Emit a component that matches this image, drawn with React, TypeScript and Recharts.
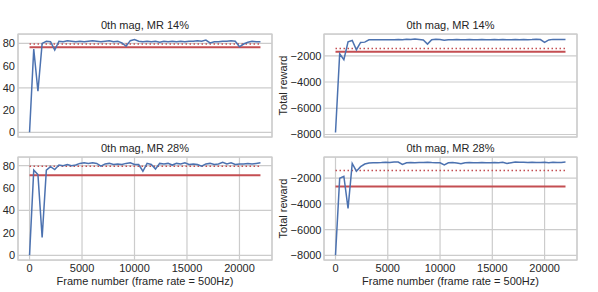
import { CartesianGrid, Line, LineChart, ReferenceArea, ReferenceLine, XAxis, YAxis } from "recharts";

const frames = [
  0, 400, 800, 1200, 1600, 2000, 2400, 2800, 3200, 3600, 4000, 4400, 4800, 5200,
  5600, 6000, 6400, 6800, 7200, 7600, 8000, 8400, 8800, 9200, 9600, 10000, 10400,
  10800, 11200, 11600, 12000, 12400, 12800, 13200, 13600, 14000, 14400, 14800,
  15200, 15600, 16000, 16400, 16800, 17200, 17600, 18000, 18400, 18800, 19200,
  19600, 20000, 20400, 20800, 21200, 21600, 22000,
];

const mag14 = [
  0, 75, 37, 80, 82, 81.5, 74, 82, 81.5, 82.5, 82, 81.5, 82, 81.5, 82, 82.5, 82,
  81.5, 82, 82.5, 81.5, 82, 80.5, 77.5, 82.5, 83.5, 82, 81.5, 82, 81.5, 82, 81,
  82, 81.5, 82, 81.5, 82, 81.5, 82, 82, 82.5, 82, 83, 80.5, 81.5, 81.5, 82, 82,
  82.5, 82, 77, 79.5, 81, 82, 81.5, 81.5,
];

const reward14 = [
  -7850, -1850, -2300, -930, -830, -1540, -980, -960, -780, -780, -770, -780,
  -770, -780, -770, -760, -780, -740, -760, -730, -760, -800, -1110, -770, -740,
  -760, -820, -770, -780, -760, -770, -780, -760, -770, -780, -760, -770, -780,
  -760, -770, -760, -780, -770, -760, -780, -750, -770, -760, -740, -760, -980,
  -790, -750, -760, -750, -760,
];

const mag28 = [
  0, 76, 72, 16, 76, 79, 76.5, 80.5, 80, 81, 80, 80.5, 82, 82.5, 82, 82.5, 82,
  79.5, 81.5, 82, 81, 81.5, 81, 82, 82.5, 81, 81, 75, 82, 81, 77, 82, 81.5, 82,
  80.5, 82, 81.5, 82.5, 81, 81.5, 81, 79.5, 81.5, 82, 81, 81.5, 83, 81.5, 82.5,
  81, 81.5, 81.5, 82, 81.5, 82, 82.5,
];

const reward28 = [
  -8000, -2000, -1850, -4350, -850, -1450, -1100, -900, -820, -790, -800, -780,
  -750, -780, -740, -740, -930, -800, -770, -790, -780, -770, -760, -780, -790,
  -800, -960, -800, -780, -820, -880, -790, -780, -800, -790, -780, -790, -790,
  -780, -800, -760, -850, -790, -740, -760, -750, -770, -760, -780, -770, -760,
  -790, -750, -780, -770, -740,
];

// baselines: dotted = reference, solid = this run
const magRef = [79.5, 79.5];
const magBase = [76.5, 71.5];
const rewardRef = [-1440, -1410];
const rewardBase = [-1700, -2650];

const xTicks = [0, 5000, 10000, 15000, 20000];
const magTicks = [0, 20, 40, 60, 80];
const rewardTicks = [-8000, -6000, -4000, -2000];
const titles = ["0th mag, MR 14%", "0th mag, MR 28%"];

const FONT = "'Liberation Sans', Arial, sans-serif";
const TEXT = "#262626";
const GRID = "#cccccc";
const BLUE = "#4c72b0";
const RED = "#c44e52";
const X_DOMAIN: [number, number] = [-1100, 23100];

const fmt = (v: number) => String(v).replace("-", "\u2212");

function RewardLabel({ viewBox }: any) {
  const cx = viewBox.x + 6.7;
  const cy = viewBox.y + viewBox.height / 2;
  return (
    <text
      x={cx}
      y={cy}
      transform={`rotate(-90 ${cx} ${cy})`}
      textAnchor="middle"
      dominantBaseline="central"
      fontSize={11}
      fontFamily={FONT}
      fill={TEXT}
    >
      Total reward
    </text>
  );
}

interface PanelProps {
  values: number[];
  yDomain: [number, number];
  yTicks: number[];
  refY: number;
  baseY: number;
  bottom: boolean;
  right: boolean;
}

function Panel({ values, yDomain, yTicks, refY, baseY, bottom, right }: PanelProps) {
  const data = frames.map((f, i) => ({ frame: f, value: values[i] }));
  const width = right ? 322 : 276;
  return (
    <LineChart
      width={width}
      height={146}
      data={data}
      margin={{ top: bottom ? 11 : 34, right: right ? 21 : 4, left: 0, bottom: bottom ? 0 : 9 }}
    >
      <CartesianGrid stroke={GRID} strokeWidth={1.2} />
      <XAxis
        type="number"
        dataKey="frame"
        domain={X_DOMAIN}
        ticks={xTicks}
        allowDataOverflow
        axisLine={false}
        tickLine={false}
        tickSize={0}
        tickMargin={4}
        height={bottom ? 32 : 0}
        tick={bottom ? { fill: TEXT, fontSize: 11, fontFamily: FONT } : false}
      />
      <YAxis
        type="number"
        domain={yDomain}
        ticks={yTicks}
        allowDataOverflow
        axisLine={false}
        tickLine={false}
        tickSize={0}
        tickMargin={right ? 2.5 : 3}
        width={right ? 48 : 18}
        tickFormatter={fmt}
        tick={{ fill: TEXT, fontSize: 11, fontFamily: FONT }}
        label={right ? { content: <RewardLabel /> } : undefined}
      />
      <ReferenceArea
        x1={X_DOMAIN[0]}
        x2={X_DOMAIN[1]}
        y1={yDomain[0]}
        y2={yDomain[1]}
        fill="none"
        stroke={GRID}
        strokeWidth={1.25}
      />
      <ReferenceLine
        segment={[{ x: 0, y: baseY }, { x: 22000, y: baseY }]}
        stroke={RED}
        strokeWidth={2}
      />
      <ReferenceLine
        segment={[{ x: 0, y: refY }, { x: 22000, y: refY }]}
        stroke={RED}
        strokeWidth={1.5}
        strokeDasharray="1.5 2.5"
      />
      <Line
        type="linear"
        dataKey="value"
        stroke={BLUE}
        strokeWidth={1.5}
        dot={false}
        isAnimationActive={false}
      />
    </LineChart>
  );
}

const textStyle = {
  position: "absolute" as const,
  fontFamily: FONT,
  fontSize: 11,
  lineHeight: "13px",
  color: TEXT,
  textAlign: "center" as const,
  whiteSpace: "nowrap" as const,
};

export default function App() {
  return (
    <div style={{ position: "absolute", left: 0, top: 0, width: 598, height: 292, background: "#fff" }}>
      <div style={{ position: "absolute", left: 0, top: 0 }}>
        <Panel values={mag14} yDomain={[-4.2, 88.5]} yTicks={magTicks} refY={magRef[0]} baseY={magBase[0]} bottom={false} right={false} />
      </div>
      <div style={{ position: "absolute", left: 276, top: 0 }}>
        <Panel values={reward14} yDomain={[-8190, -340]} yTicks={rewardTicks} refY={rewardRef[0]} baseY={rewardBase[0]} bottom={false} right />
      </div>
      <div style={{ position: "absolute", left: 0, top: 146 }}>
        <Panel values={mag28} yDomain={[-4.2, 87.7]} yTicks={magTicks} refY={magRef[1]} baseY={magBase[1]} bottom right={false} />
      </div>
      <div style={{ position: "absolute", left: 276, top: 146 }}>
        <Panel values={reward28} yDomain={[-8365, -350]} yTicks={rewardTicks} refY={rewardRef[1]} baseY={rewardBase[1]} bottom right />
      </div>

      <div style={{ ...textStyle, left: 18, width: 254, top: 19 }}>{titles[0]}</div>
      <div style={{ ...textStyle, left: 324, width: 253, top: 19 }}>{titles[0]}</div>
      <div style={{ ...textStyle, left: 18, width: 254, top: 142 }}>{titles[1]}</div>
      <div style={{ ...textStyle, left: 324, width: 253, top: 142 }}>{titles[1]}</div>

      <div style={{ ...textStyle, left: 18, width: 254, top: 275 }}>Frame number (frame rate = 500Hz)</div>
      <div style={{ ...textStyle, left: 324, width: 253, top: 275 }}>Frame number (frame rate = 500Hz)</div>
    </div>
  );
}
